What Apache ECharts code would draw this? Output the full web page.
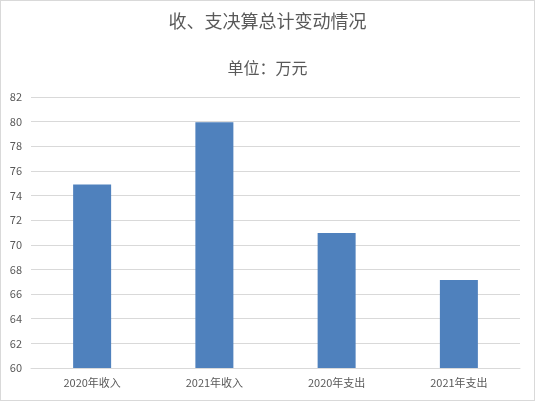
<!DOCTYPE html>
<html><head><meta charset="utf-8">
<script src="https://cdn.jsdelivr.net/npm/echarts@6/dist/echarts.min.js"></script>
<style>html,body{margin:0;padding:0;background:#fff}#c{width:535px;height:401px;box-sizing:border-box;border:1px solid #d9d9d9}</style>
</head><body><div id="c"></div>
<script>
const categories = ['2020年收入','2021年收入','2020年支出','2021年支出'];
const values = [74.9, 79.95, 70.95, 67.15];
const titleText = '收、支决算总计变动情况';
const subtitleText = '单位：万元';
const chart = echarts.init(document.getElementById('c'));
const font = '"Microsoft YaHei","Noto Sans CJK SC",sans-serif';
chart.setOption({
  animation:false,
  title:[
    {text:titleText,left:'center',top:6,textStyle:{fontFamily:font,fontSize:18,fontWeight:'normal',color:'#595959'}},
    {text:subtitleText,left:'center',top:54,textStyle:{fontFamily:font,fontSize:16,fontWeight:'normal',color:'#595959'}}
  ],
  grid:{left:30,right:14,top:96,bottom:32,containLabel:false},
  xAxis:{type:'category',data:categories,axisLine:{lineStyle:{color:'#d9d9d9'}},axisTick:{show:false},
    axisLabel:{fontFamily:font,fontSize:11,color:'#595959',margin:9}},
  yAxis:{type:'value',min:60,max:82,interval:2,axisLine:{show:false},axisTick:{show:false},
    splitLine:{lineStyle:{color:'#d9d9d9'}},axisLabel:{fontFamily:font,fontSize:11,color:'#595959',margin:9}},
  series:[{type:'bar',data:values,barWidth:38,itemStyle:{color:'#4f81bd'}}]
});
</script></body></html>
